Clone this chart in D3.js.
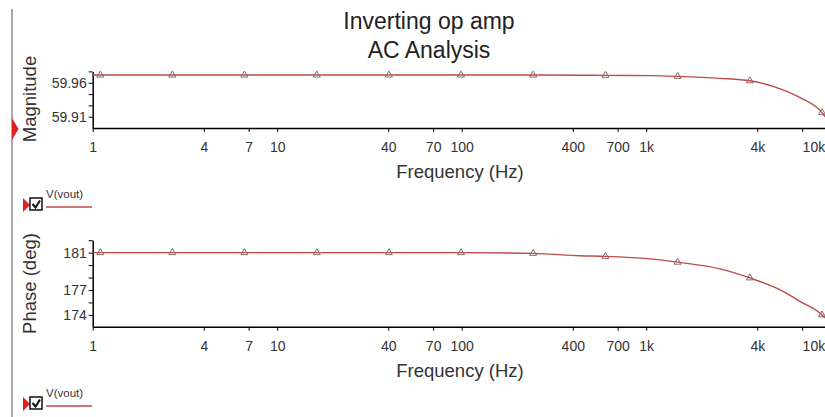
<!DOCTYPE html>
<meta charset="utf-8">
<script src="https://d3js.org/d3.v7.min.js"></script>
<style>
  body { margin: 0; background: #fff; }
  text { font-family: "Liberation Sans", Arial, sans-serif; }
</style>
<body>
<div id="chart"></div>
<script>

// trace of V(vout)
var traceFreq  = [1, 10, 100, 244, 438, 601, 1050, 1480, 2517, 3645, 5324, 6834, 8975, 9323];
var traceMag   = [59.9713, 59.9713, 59.9713, 59.9713, 59.9711, 59.9709, 59.9705, 59.9694, 59.9665, 59.9629, 59.951, 59.938, 59.916, 59.910];
var tracePhase = [181.0, 181.0, 181.0, 180.92, 180.65, 180.58, 180.3, 179.93, 179.18, 178.16, 176.8, 175.5, 174.0, 173.66];

// triangle markers on the trace
var markerFreq  = [1.10, 2.70, 6.64, 16.4, 40.3, 99.1, 244, 601, 1480, 3645, 8975];
var markerMag   = [59.9713, 59.9713, 59.9713, 59.9713, 59.9713, 59.9713, 59.9713, 59.9709, 59.9694, 59.9629, 59.916];
var markerPhase = [181.0, 181.0, 181.0, 181.0, 181.0, 181.0, 180.92, 180.58, 179.93, 178.16, 174.0];

// axis ticks
var xTicks      = [1, 4, 7, 10, 40, 70, 100, 400, 700, 1000, 4000, 7000, 10000];
var xTickLabels = ["1", "4", "7", "10", "40", "70", "100", "400", "700", "1k", "4k", "", "10k"];
var magTicks       = [59.9767, 59.96, 59.9433, 59.9267, 59.91];
var magTickLabels  = ["", "59.96", "", "", "59.91"];
var phaseTicks      = [182.4, 181, 179.6, 178.2, 176.8, 175.4, 174];
var phaseTickLabels = ["", "181", "", "", "177", "", "174"];

var W = 825, H = 417;
var lineColor = "#bf4a48";

var svg = d3.select("#chart").append("svg")
    .attr("width", W)
    .attr("height", H);

// left window border
svg.append("line")
    .attr("x1", 12).attr("x2", 12).attr("y1", 9).attr("y2", H)
    .attr("stroke", "#a8a8a8").attr("stroke-width", 2);

// title
svg.append("text").attr("x", 429).attr("y", 29).attr("text-anchor", "middle")
    .style("font-size", "23px").attr("fill", "#222").text("Inverting op amp");
svg.append("text").attr("x", 429).attr("y", 58).attr("text-anchor", "middle")
    .style("font-size", "23px").attr("fill", "#222").text("AC Analysis");

var x = d3.scaleLog().domain([1, 10000]).range([92.7, 830.7]);

function drawPanel(y, ticks, tickLabels, values, mValues, yTitle, titleY, offset) {
  var axisY = y.range()[0];

  // x axis
  var gx = svg.append("g")
      .attr("transform", "translate(0," + axisY + ")")
      .call(d3.axisBottom(x).tickValues(xTicks).tickSize(4).tickSizeOuter(0)
        .tickFormat(function(d, i) { return xTickLabels[i]; }));
  gx.selectAll("text").attr("y", 14).style("font-size", "14px").attr("fill", "#333");
  // last label is pulled in so it stays inside the window
  gx.selectAll("text").filter(function(d) { return d == 10000; })
      .attr("text-anchor", "end").attr("dx", -6);
  gx.select(".domain").attr("stroke-width", 1.5);

  // y axis
  var gy = svg.append("g")
      .attr("transform", "translate(92.7,0)")
      .call(d3.axisLeft(y).tickValues(ticks).tickSize(4).tickSizeOuter(0)
        .tickFormat(function(d, i) { return tickLabels[i]; }));
  gy.selectAll("text").style("font-size", "14px").attr("fill", "#333").attr("x", -6);
  gy.select(".domain").attr("stroke-width", 1.5);

  svg.append("text")
      .attr("x", 460).attr("y", axisY + 50)
      .attr("text-anchor", "middle")
      .style("font-size", "18.5px").attr("fill", "#333")
      .text("Frequency (Hz)");

  svg.append("text")
      .attr("transform", "translate(36," + titleY + ") rotate(-90)")
      .attr("text-anchor", "middle")
      .style("font-size", "18.5px").attr("fill", "#333")
      .text(yTitle);

  // trace
  var pts = traceFreq.map(function(f, i) { return [f, values[i]]; });
  svg.append("path")
      .datum(pts)
      .attr("fill", "none")
      .attr("stroke", lineColor)
      .attr("stroke-width", 1.4)
      .attr("d", d3.line()
        .curve(d3.curveMonotoneX)
        .x(function(d) { return x(d[0]); })
        .y(function(d) { return y(d[1]); }));

  // markers
  svg.append("g").selectAll("path")
    .data(markerFreq.map(function(f, i) { return [f, mValues[i]]; }))
    .enter().append("path")
      .attr("transform", function(d) { return "translate(" + x(d[0]) + "," + (y(d[1]) - 1) + ")"; })
      .attr("d", "M-3.5,3L0,-3L3.5,3Z")
      .attr("fill", "none")
      .attr("stroke", "#8a6666")
      .attr("stroke-width", 1);

  // legend
  var ly = 198 + offset;
  svg.append("path")
      .attr("d", "M23," + ly + "L30," + (ly + 7) + "L23," + (ly + 14) + "Z")
      .attr("fill", "#e02020");
  svg.append("rect")
      .attr("x", 30).attr("y", ly).attr("width", 12).attr("height", 12)
      .attr("fill", "#fff").attr("stroke", "#111").attr("stroke-width", 1.5);
  svg.append("path")
      .attr("d", "M32.5," + (ly + 6) + "L35.5," + (ly + 9.5) + "L40," + (ly + 2.5))
      .attr("fill", "none").attr("stroke", "#111").attr("stroke-width", 2);
  svg.append("text")
      .attr("x", 46).attr("y", ly)
      .style("font-size", "11.5px").attr("fill", "#333")
      .text("V(vout)");
  svg.append("line")
      .attr("x1", 46).attr("x2", 92).attr("y1", ly + 9).attr("y2", ly + 9)
      .attr("stroke", lineColor).attr("stroke-width", 1.5);
}

var yMag = d3.scaleLinear().domain([59.8934, 59.9767]).range([128, 71.4]);
var yPhase = d3.scaleLinear().domain([172.67, 182.4]).range([326.7, 240.2]);

drawPanel(yMag, magTicks, magTickLabels, traceMag, markerMag, "Magnitude", 99, 0);
drawPanel(yPhase, phaseTicks, phaseTickLabels, tracePhase, markerPhase, "Phase (deg)", 283.5, 199);

// red marker on the left border
svg.append("path")
    .attr("d", "M12,118L18.5,129L12,140Z")
    .attr("fill", "#e02020");

</script>
</body>
